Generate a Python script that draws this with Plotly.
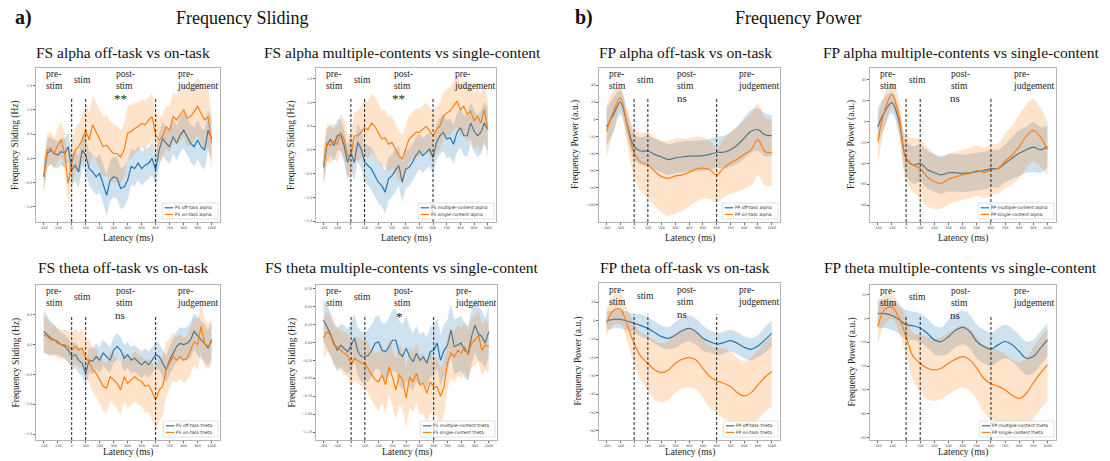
import plotly.graph_objects as go

W, H = 1110, 461
SERIF = "Liberation Serif, Times New Roman, serif"
SANS = "DejaVu Sans, sans-serif"
BLUE = "#1f77b4"
ORANGE = "#ff7f0e"
BLUE_FILL = "rgba(31,119,180,0.22)"
ORANGE_FILL = "rgba(255,127,14,0.22)"

# ---------------- time grids (ms) ----------------
T_FS = list(range(-200, 1001, 25))
T_FP = list(range(-200, 1001, 50))
X_TICKS = [-200, -100, 0, 100, 200, 300, 400, 500, 600, 700, 800, 900, 1000]
EPOCH_LINES = [0, 100, 600]

# ---------------- FS alpha off-task vs on-task ----------------
fs_alpha_off = [-0.38, 0.10, 0.17, 0.10, 0.07, 0.14, 0.10, 0.24, -0.24, -0.14,
                -0.28, 0.17, 0.07, -0.21, -0.28, -0.38, -0.31, -0.52, -0.76, -0.45,
                -0.38, -0.41, -0.62, -0.59, -0.45, -0.17, -0.21, -0.10, -0.21, -0.14,
                -0.10, 0.00, -0.24, 0.17, 0.41, 0.31, 0.24, 0.45, 0.31, 0.48,
                0.58, 0.45, 0.31, 0.24, 0.38, 0.24, 0.17, 0.58, 0.41]
fs_alpha_off_ci = [0.30, 0.30, 0.28, 0.28, 0.28, 0.28, 0.30, 0.30, 0.32, 0.32,
                   0.33, 0.33, 0.35, 0.35, 0.37, 0.38, 0.40, 0.40, 0.42, 0.42,
                   0.42, 0.42, 0.42, 0.42, 0.40, 0.38, 0.36, 0.35, 0.35, 0.34,
                   0.33, 0.33, 0.33, 0.33, 0.35, 0.35, 0.35, 0.35, 0.36, 0.36,
                   0.37, 0.38, 0.38, 0.40, 0.40, 0.40, 0.40, 0.42, 0.42]
fs_alpha_on = [-0.38, 0.17, 0.21, 0.10, 0.27, 0.38, 0.10, -0.52, -0.10, 0.17,
               0.24, 0.38, 0.58, 0.38, 0.69, 0.55, 0.38, 0.24, 0.27, 0.17,
               0.10, 0.10, 0.03, 0.17, 0.52, 0.55, 0.62, 0.65, 0.72, 0.69,
               0.79, 0.86, 0.48, 0.38, 0.45, 0.65, 0.58, 0.86, 0.79, 0.89,
               1.00, 0.83, 0.86, 0.96, 1.07, 0.93, 0.79, 0.86, 0.31]
fs_alpha_on_ci = [0.35, 0.35, 0.33, 0.33, 0.35, 0.38, 0.40, 0.42, 0.45, 0.45,
                  0.48, 0.50, 0.55, 0.58, 0.60, 0.60, 0.62, 0.62, 0.62, 0.60,
                  0.60, 0.58, 0.55, 0.55, 0.55, 0.55, 0.52, 0.50, 0.50, 0.50,
                  0.48, 0.48, 0.48, 0.45, 0.45, 0.45, 0.48, 0.50, 0.52, 0.55,
                  0.55, 0.58, 0.58, 0.60, 0.60, 0.62, 0.62, 0.62, 0.60]

# ---------------- FS alpha multiple vs single ----------------
fs_alpha_multi = [-0.37, 0.09, 0.23, 0.09, 0.30, 0.33, 0.09, -0.26, -0.05, -0.26,
                  0.16, 0.02, -0.26, -0.33, -0.40, -0.54, -0.68, -0.75, -0.89, -0.61,
                  -0.54, -0.43, -0.33, -0.68, -0.40, -0.37, -0.26, -0.12, -0.02, -0.12,
                  -0.05, 0.02, -0.16, 0.16, 0.30, 0.37, 0.23, 0.26, 0.12, 0.37,
                  0.47, 0.30, 0.30, 0.57, 0.40, 0.30, 0.37, 0.57, 0.43]
fs_alpha_multi_ci = [0.35, 0.35, 0.33, 0.33, 0.33, 0.33, 0.35, 0.35, 0.38, 0.38,
                     0.40, 0.40, 0.42, 0.42, 0.45, 0.45, 0.45, 0.45, 0.45, 0.45,
                     0.45, 0.45, 0.42, 0.42, 0.40, 0.40, 0.38, 0.38, 0.38, 0.36,
                     0.36, 0.36, 0.36, 0.38, 0.38, 0.40, 0.40, 0.40, 0.42, 0.42,
                     0.42, 0.42, 0.44, 0.44, 0.44, 0.45, 0.45, 0.45, 0.45]
fs_alpha_single = [-0.33, 0.16, 0.09, 0.19, 0.12, 0.37, 0.23, -0.12, -0.12, 0.30,
                   0.30, 0.37, 0.47, 0.43, 0.57, 0.50, 0.37, 0.23, 0.26, 0.12,
                   0.16, 0.02, -0.12, -0.19, 0.02, 0.23, 0.30, 0.37, 0.37, 0.43,
                   0.50, 0.40, 0.30, 0.43, 0.50, 0.71, 0.78, 0.82, 0.92, 1.03,
                   0.85, 0.92, 0.75, 0.82, 0.61, 0.71, 0.57, 0.85, 0.43]
fs_alpha_single_ci = [0.40, 0.40, 0.38, 0.38, 0.38, 0.40, 0.42, 0.45, 0.48, 0.50,
                      0.52, 0.55, 0.58, 0.60, 0.62, 0.62, 0.62, 0.60, 0.60, 0.58,
                      0.55, 0.55, 0.52, 0.50, 0.50, 0.50, 0.50, 0.50, 0.50, 0.50,
                      0.50, 0.52, 0.52, 0.50, 0.48, 0.48, 0.50, 0.50, 0.52, 0.55,
                      0.55, 0.55, 0.58, 0.58, 0.60, 0.60, 0.60, 0.60, 0.60]

# ---------------- FS theta off-task vs on-task ----------------
fs_theta_off = [0.22, 0.16, 0.11, 0.08, 0.05, 0.00, -0.03, -0.09, -0.20, -0.17,
                -0.26, -0.31, -0.48, -0.26, -0.28, -0.20, -0.26, -0.14, -0.20, -0.26,
                -0.09, -0.03, -0.09, -0.23, -0.17, -0.26, -0.23, -0.28, -0.34, -0.28,
                -0.34, -0.26, -0.17, -0.20, -0.31, -0.42, -0.26, -0.14, -0.03, 0.02,
                0.00, 0.02, 0.08, 0.22, 0.14, 0.08, 0.02, -0.06, 0.08]
fs_theta_off_ci = [0.35, 0.32, 0.28, 0.25, 0.22, 0.20, 0.20, 0.20, 0.22, 0.22,
                   0.22, 0.22, 0.22, 0.22, 0.22, 0.22, 0.22, 0.22, 0.22, 0.22,
                   0.22, 0.22, 0.22, 0.22, 0.22, 0.22, 0.22, 0.22, 0.22, 0.22,
                   0.22, 0.22, 0.22, 0.22, 0.23, 0.23, 0.24, 0.25, 0.26, 0.27,
                   0.28, 0.28, 0.30, 0.30, 0.32, 0.32, 0.32, 0.30, 0.30]
fs_theta_on = [0.16, 0.14, 0.08, 0.08, 0.02, 0.00, 0.00, -0.03, -0.09, -0.03,
               -0.09, -0.06, -0.23, -0.28, -0.42, -0.48, -0.59, -0.70, -0.73, -0.54,
               -0.59, -0.65, -0.76, -0.54, -0.65, -0.59, -0.54, -0.59, -0.62, -0.70,
               -0.68, -0.79, -0.93, -0.76, -0.70, -0.42, -0.31, -0.20, -0.26, -0.20,
               -0.26, -0.23, -0.09, 0.05, 0.00, 0.30, 0.02, -0.03, 0.05]
fs_theta_on_ci = [0.30, 0.30, 0.28, 0.26, 0.25, 0.25, 0.25, 0.26, 0.28, 0.30,
                  0.30, 0.32, 0.34, 0.36, 0.38, 0.40, 0.40, 0.42, 0.42, 0.42,
                  0.42, 0.42, 0.42, 0.42, 0.42, 0.42, 0.42, 0.42, 0.42, 0.44,
                  0.46, 0.48, 0.52, 0.52, 0.50, 0.46, 0.42, 0.40, 0.38, 0.38,
                  0.38, 0.38, 0.40, 0.40, 0.42, 0.42, 0.40, 0.38, 0.38]

# ---------------- FS theta multiple vs single ----------------
fs_theta_multi = [0.31, 0.22, 0.12, -0.01, -0.11, -0.04, -0.08, -0.13, -0.04, 0.06,
                  -0.13, -0.20, -0.20, -0.18, -0.11, -0.01, 0.01, -0.11, -0.13, -0.06,
                  0.03, 0.03, -0.15, -0.20, -0.08, -0.20, -0.27, -0.15, -0.25, -0.20,
                  -0.29, -0.13, -0.11, -0.01, -0.25, -0.11, -0.04, 0.17, -0.06, -0.04,
                  -0.01, -0.11, -0.15, 0.08, 0.24, 0.12, 0.08, -0.01, 0.15]
fs_theta_multi_ci = [0.30, 0.30, 0.30, 0.30, 0.30, 0.30, 0.32, 0.32, 0.34, 0.34,
                     0.34, 0.35, 0.35, 0.36, 0.36, 0.36, 0.38, 0.38, 0.40, 0.40,
                     0.42, 0.44, 0.45, 0.45, 0.44, 0.42, 0.40, 0.38, 0.36, 0.35,
                     0.35, 0.35, 0.35, 0.35, 0.35, 0.36, 0.36, 0.37, 0.38, 0.38,
                     0.38, 0.38, 0.38, 0.38, 0.38, 0.38, 0.36, 0.35, 0.35]
fs_theta_single = [0.06, 0.15, 0.10, -0.04, -0.06, -0.11, -0.15, -0.18, -0.31, -0.22,
                   -0.25, -0.29, -0.29, -0.38, -0.45, -0.52, -0.55, -0.45, -0.59, -0.34,
                   -0.48, -0.66, -0.45, -0.52, -0.78, -0.48, -0.55, -0.43, -0.59, -0.57,
                   -0.71, -0.55, -0.62, -0.62, -0.75, -0.62, -0.29, -0.15, -0.20, -0.11,
                   -0.15, -0.06, -0.18, -0.01, 0.03, 0.10, -0.11, -0.04, -0.06]
fs_theta_single_ci = [0.28, 0.28, 0.28, 0.28, 0.28, 0.28, 0.30, 0.30, 0.30, 0.30,
                      0.32, 0.32, 0.34, 0.35, 0.36, 0.38, 0.40, 0.40, 0.40, 0.40,
                      0.40, 0.42, 0.42, 0.42, 0.42, 0.42, 0.42, 0.42, 0.42, 0.42,
                      0.42, 0.42, 0.42, 0.40, 0.40, 0.38, 0.36, 0.35, 0.35, 0.35,
                      0.35, 0.35, 0.35, 0.35, 0.35, 0.35, 0.35, 0.35, 0.35]

# ---------------- FP alpha off-task vs on-task ----------------
fp_alpha_off = [-9, 5.6, 20, -6, -31.5, -37, -37, -41, -44, -47, -45, -44, -43,
                -43, -42.5, -41, -38.5, -38.5, -35.5, -30, -22, -14, -12, -18, -19]
fp_alpha_off_ci = [22, 20, 14, 14, 15, 16, 18, 18, 18, 18, 18, 18, 18,
                   18, 18, 18, 18, 19, 20, 22, 24, 25, 25, 25, 24]
fp_alpha_on = [-14, 9.5, 25, -8, -39, -50, -53, -61, -67, -69, -66, -65, -62,
               -58, -57, -59, -65, -57, -51, -46.5, -41, -35.5, -24, -37.5, -39]
fp_alpha_on_ci = [30, 24, 12, 20, 28, 34, 38, 40, 42, 44, 44, 42, 40,
                  38, 36, 34, 32, 34, 36, 38, 40, 42, 42, 40, 38]

# ---------------- FP alpha multiple vs single ----------------
fp_alpha_multi = [-5, 9.6, 18, 0, -35, -41.6, -40, -45.8, -49, -51, -49, -49, -49.6,
                  -49, -48, -47, -45, -45, -40, -35, -30.4, -27, -24.6, -27, -24]
fp_alpha_multi_ci = [18, 14, 10, 12, 16, 18, 18, 18, 18, 18, 18, 18, 18,
                     18, 18, 18, 18, 18, 18, 20, 22, 22, 24, 22, 20]
fp_alpha_single = [-19, 11, 25.6, 4.8, -35, -41.6, -45, -53, -57.6, -59, -55, -53, -51,
                   -49.6, -47, -49, -46, -45, -38, -32, -24, -14, -8.6, -15, -27]
fp_alpha_single_ci = [22, 16, 12, 16, 22, 26, 28, 28, 26, 24, 24, 24, 24,
                      24, 24, 24, 24, 24, 26, 28, 30, 30, 30, 28, 26]

# ---------------- FP theta off-task vs on-task ----------------
fp_theta_off = [0, 0.7, 0.7, -0.2, -1.4, -2.7, -4.2, -6.5, -8.7, -9.6, -7.8, -5.4, -4.2,
                -6, -9.6, -11.4, -12.7, -12, -10.9, -12.3, -14.5, -15.6, -13.8, -10.5, -6.9]
fp_theta_off_ci = [5, 5, 5, 5, 5, 6, 6, 6, 6, 6, 7, 7, 7,
                   7, 7, 6, 6, 6, 6, 6, 6, 6, 6, 7, 7]
fp_theta_on = [-1.4, 5.5, 6.2, -2.3, -12.3, -19.6, -23.2, -26.9, -28.3, -26.9, -23.2, -21, -20.1,
               -21.4, -26, -30.5, -32.7, -34.1, -35.9, -39.2, -41, -39.2, -35, -30.8, -27.7]
fp_theta_on_ci = [7, 8, 8, 9, 11, 13, 15, 16, 16, 16, 16, 16, 16,
                  16, 16, 17, 18, 19, 19, 19, 19, 19, 19, 19, 19]

# ---------------- FP theta multiple vs single ----------------
fp_theta_multi = [2, 2, 1.2, -0.5, -2.6, -3.1, -4, -6.2, -9, -9.7, -7.6, -5, -3.8,
                  -5.5, -9.7, -11.8, -12.9, -11.1, -9.7, -11.1, -13.9, -16.7, -16, -12.5, -9]
fp_theta_multi_ci = [6, 6, 6, 6, 6, 6, 6, 6, 6, 6, 7, 7, 7,
                     7, 7, 7, 7, 7, 7, 7, 7, 7, 7, 7, 7]
fp_theta_single = [-3.3, 3.7, 4.7, 0.2, -7.6, -16, -18.8, -20.9, -21.6, -20.9, -18.8, -17.1, -16,
                   -17.4, -20.9, -25.2, -27.3, -28.4, -30, -32.2, -33.6, -31.5, -27, -23, -19.5]
fp_theta_single_ci = [8, 6, 5, 6, 8, 10, 12, 13, 13, 13, 13, 13, 13,
                      13, 13, 14, 15, 15, 15, 15, 15, 15, 15, 15, 15]

# ---------------- panel definitions (layout in px) ----------------
panels = [
    dict(title="FS alpha off-task vs on-task", tx=123, ty=52, box=(36, 220, 68, 222), ylab_x=16, lat_y=238,
         yr=[-1.31, 1.86], yt=[-1.0, -0.5, 0.0, 0.5, 1.0, 1.5], fmt=".1f",
         ylabel="Frequency Sliding (Hz)", t=T_FS, shape="linear", sig="**",
         s=[(fs_alpha_off, fs_alpha_off_ci, "FS off-task alpha"),
            (fs_alpha_on, fs_alpha_on_ci, "FS on-task alpha")]),
    dict(title="FS alpha multiple-contents vs single-content", tx=402, ty=52, box=(316, 496, 68, 222), ylab_x=292, lat_y=238,
         yr=[-1.52, 1.73], yt=[-1.5, -1.0, -0.5, 0.0, 0.5, 1.0, 1.5], fmt=".1f",
         ylabel="Frequency Sliding (Hz)", t=T_FS, shape="linear", sig="**",
         s=[(fs_alpha_multi, fs_alpha_multi_ci, "FS multiple-content alpha"),
            (fs_alpha_single, fs_alpha_single_ci, "FS single-content alpha")]),
    dict(title="FP alpha off-task vs on-task", tx=685, ty=52, box=(599, 780, 68, 222), ylab_x=576, lat_y=238,
         yr=[-120, 60], yt=[-100, -80, -60, -40, -20, 0, 20, 40], fmt="d",
         ylabel="Frequency Power (a.u.)", t=T_FP, shape="spline", sig="ns",
         s=[(fp_alpha_off, fp_alpha_off_ci, "FP off-task alpha"),
            (fp_alpha_on, fp_alpha_on_ci, "FP on-task alpha")]),
    dict(title="FP alpha multiple-contents vs single-content", tx=961, ty=52, box=(870, 1056, 68, 222), ylab_x=852, lat_y=238,
         yr=[-96, 51], yt=[-80, -60, -40, -20, 0, 20, 40], fmt="d",
         ylabel="Frequency Power (a.u.)", t=T_FP, shape="spline", sig="ns",
         s=[(fp_alpha_multi, fp_alpha_multi_ci, "FP multiple-content alpha"),
            (fp_alpha_single, fp_alpha_single_ci, "FP single-content alpha")]),
    dict(title="FS theta off-task vs on-task", tx=123, ty=267, box=(36, 220, 285, 440), ylab_x=16, lat_y=452,
         yr=[-1.6, 1.0], yt=[-1.5, -1.0, -0.5, 0.0, 0.5], fmt=".1f",
         ylabel="Frequency Sliding (Hz)", t=T_FS, shape="linear", sig="ns",
         s=[(fs_theta_off, fs_theta_off_ci, "FS off-task theta"),
            (fs_theta_on, fs_theta_on_ci, "FS on-task theta")]),
    dict(title="FS theta multiple-contents vs single-content", tx=402, ty=267, box=(316, 497, 285, 440), ylab_x=292, lat_y=452,
         yr=[-1.36, 0.80], yt=[-1.25, -1.0, -0.75, -0.5, -0.25, 0.0, 0.25, 0.5, 0.75], fmt=".2f",
         ylabel="Frequency Sliding (Hz)", t=T_FS, shape="linear", sig="*",
         s=[(fs_theta_multi, fs_theta_multi_ci, "FS multiple-content theta"),
            (fs_theta_single, fs_theta_single_ci, "FS single-content theta")]),
    dict(title="FP theta off-task vs on-task", tx=685, ty=267, box=(599, 780, 283, 440), ylab_x=578, lat_y=452,
         yr=[-65, 20.5], yt=[-60, -50, -40, -30, -20, -10, 0, 10], fmt="d",
         ylabel="Frequency Power (a.u.)", t=T_FP, shape="spline", sig="ns",
         s=[(fp_theta_off, fp_theta_off_ci, "FP off-task theta"),
            (fp_theta_on, fp_theta_on_ci, "FP on-task theta")]),
    dict(title="FP theta multiple-contents vs single-content", tx=960, ty=267, box=(870, 1056, 285, 440), ylab_x=852, lat_y=452,
         yr=[-51, 14], yt=[-50, -40, -30, -20, -10, 0, 10], fmt="d",
         ylabel="Frequency Power (a.u.)", t=T_FP, shape="spline", sig="ns",
         s=[(fp_theta_multi, fp_theta_multi_ci, "FP multiple-content theta"),
            (fp_theta_single, fp_theta_single_ci, "FP single-content theta")]),
]

REGIONS = [("pre-<br>stim", -200), ("stim", 5), ("post-<br>stim", 300), ("pre-<br>judgement", 740)]
COLORS = [(BLUE, BLUE_FILL), (ORANGE, ORANGE_FILL)]


def px(x):
    return x / W


def py(y):
    return 1 - y / H


def text_w(s, fs):
    w = 0.0
    for c in s:
        if c in " fijlrt-.,()":
            w += 0.36
        elif c in "mwMW":
            w += 0.95
        else:
            w += 0.63
    return w * fs


fig = go.Figure()
shapes = []
annotations = []
layout_axes = {}

for i, p in enumerate(panels, start=1):
    xa = "x" if i == 1 else f"x{i}"
    ya = "y" if i == 1 else f"y{i}"
    L, R, T, B = p["box"]
    t = p["t"]
    for (mean, ci, name), (col, fcol) in zip(p["s"], COLORS):
        upper = [m + c for m, c in zip(mean, ci)]
        lower = [m - c for m, c in zip(mean, ci)]
        fig.add_trace(go.Scatter(x=t, y=upper, xaxis=xa, yaxis=ya, mode="lines",
                                 line=dict(width=0, shape=p["shape"]), showlegend=False,
                                 hoverinfo="skip"))
        fig.add_trace(go.Scatter(x=t, y=lower, xaxis=xa, yaxis=ya, mode="lines",
                                 line=dict(width=0, shape=p["shape"]), fill="tonexty",
                                 fillcolor=fcol, showlegend=False, hoverinfo="skip"))
        fig.add_trace(go.Scatter(x=t, y=mean, xaxis=xa, yaxis=ya, mode="lines", name=name,
                                 line=dict(color=col, width=1.2, shape=p["shape"]),
                                 showlegend=False))

    axis_common = dict(showline=True, mirror=True, linecolor="#b3b3b3", linewidth=1,
                       ticks="outside", ticklen=2, tickwidth=0.6, tickcolor="#666",
                       showgrid=False, zeroline=False,
                       tickfont=dict(family=SANS, size=3.4, color="#444"))
    layout_axes["xaxis" if i == 1 else f"xaxis{i}"] = dict(
        domain=[px(L), px(R)], anchor=ya, range=[-255, 1060], tickvals=X_TICKS,
        ticktext=[str(v) for v in X_TICKS], **axis_common)
    layout_axes["yaxis" if i == 1 else f"yaxis{i}"] = dict(
        domain=[py(B), py(T)], anchor=xa, range=p["yr"], tickvals=p["yt"],
        tickformat=p["fmt"], **axis_common)

    # epoch boundaries
    for v in EPOCH_LINES:
        shapes.append(dict(type="line", xref=xa, yref=f"{ya} domain", x0=v, x1=v, y0=0, y1=0.8,
                           line=dict(color="#222", width=1, dash="3px,2px"), layer="above"))
    # region labels
    for txt, xv in REGIONS:
        annotations.append(dict(x=xv, y=0.92, xref=xa, yref=f"{ya} domain", text=txt,
                                showarrow=False, xanchor="left", yanchor="middle", align="left",
                                font=dict(family=SERIF, size=9.5, color="#222")))
    # significance
    is_star = "*" in p["sig"]
    annotations.append(dict(x=350 if is_star else 345, y=0.80 if is_star else 0.805, xref=xa,
                            yref=f"{ya} domain", text=p["sig"], showarrow=False,
                            xanchor="center", yanchor="middle",
                            font=dict(family=SERIF, size=13 if is_star else 11, color="#222")))
    # titles
    annotations.append(dict(x=px(p["tx"]), y=py(p["ty"]), xref="paper", yref="paper",
                            text=p["title"], showarrow=False, xanchor="center", yanchor="middle",
                            font=dict(family=SERIF, size=15.5, color="#111")))
    annotations.append(dict(x=px(p["ylab_x"]), y=py((T + B) / 2), xref="paper", yref="paper",
                            text=p["ylabel"], showarrow=False, textangle=-90,
                            xanchor="center", yanchor="middle",
                            font=dict(family=SERIF, size=9.5, color="#222")))
    annotations.append(dict(x=px((L + R) / 2), y=py(p["lat_y"]), xref="paper", yref="paper",
                            text="Latency (ms)", showarrow=False, xanchor="center",
                            yanchor="middle", font=dict(family=SERIF, size=9.5, color="#222")))

    # manual legend (lower right)
    lfs = 4.4
    names = [s[2] for s in p["s"]]
    w = max(text_w(n, lfs) for n in names) + 17
    Rr, Bb = R - 2, B - 3
    Tt, Ll = Bb - 16, Rr - w
    shapes.append(dict(type="rect", xref="paper", yref="paper", x0=px(Ll), x1=px(Rr),
                       y0=py(Bb), y1=py(Tt), fillcolor="rgba(255,255,255,0.8)",
                       line=dict(color="#cccccc", width=0.6), layer="above"))
    for k, (name, (col, _)) in enumerate(zip(names, COLORS)):
        yy = Tt + 4.8 + k * 6.6
        shapes.append(dict(type="line", xref="paper", yref="paper", x0=px(Ll + 2.5),
                           x1=px(Ll + 11), y0=py(yy), y1=py(yy),
                           line=dict(color=col, width=1.2), layer="above"))
        annotations.append(dict(x=px(Ll + 12), y=py(yy), xref="paper", yref="paper", text=name,
                                showarrow=False, xanchor="left", yanchor="middle",
                                borderpad=0, font=dict(family=SANS, size=lfs, color="#333")))

# figure headers
annotations += [
    dict(x=px(13), y=py(18), xref="paper", yref="paper", text="<b>a)</b>", showarrow=False,
         xanchor="left", yanchor="middle", font=dict(family=SERIF, size=20, color="#111")),
    dict(x=px(242), y=py(18), xref="paper", yref="paper", text="Frequency Sliding",
         showarrow=False, xanchor="center", yanchor="middle",
         font=dict(family=SERIF, size=18, color="#111")),
    dict(x=px(573), y=py(18), xref="paper", yref="paper", text="<b>b)</b>", showarrow=False,
         xanchor="left", yanchor="middle", font=dict(family=SERIF, size=20, color="#111")),
    dict(x=px(798), y=py(18), xref="paper", yref="paper", text="Frequency Power",
         showarrow=False, xanchor="center", yanchor="middle",
         font=dict(family=SERIF, size=18, color="#111")),
]

fig.update_layout(width=W, height=H, margin=dict(l=0, r=0, t=0, b=0),
                  paper_bgcolor="white", plot_bgcolor="white", showlegend=False,
                  shapes=shapes, annotations=annotations, **layout_axes)

fig.write_html("out.html", config={"displayModeBar": False},
               post_script="document.body.style.margin='0px';document.body.style.overflow='hidden';")
